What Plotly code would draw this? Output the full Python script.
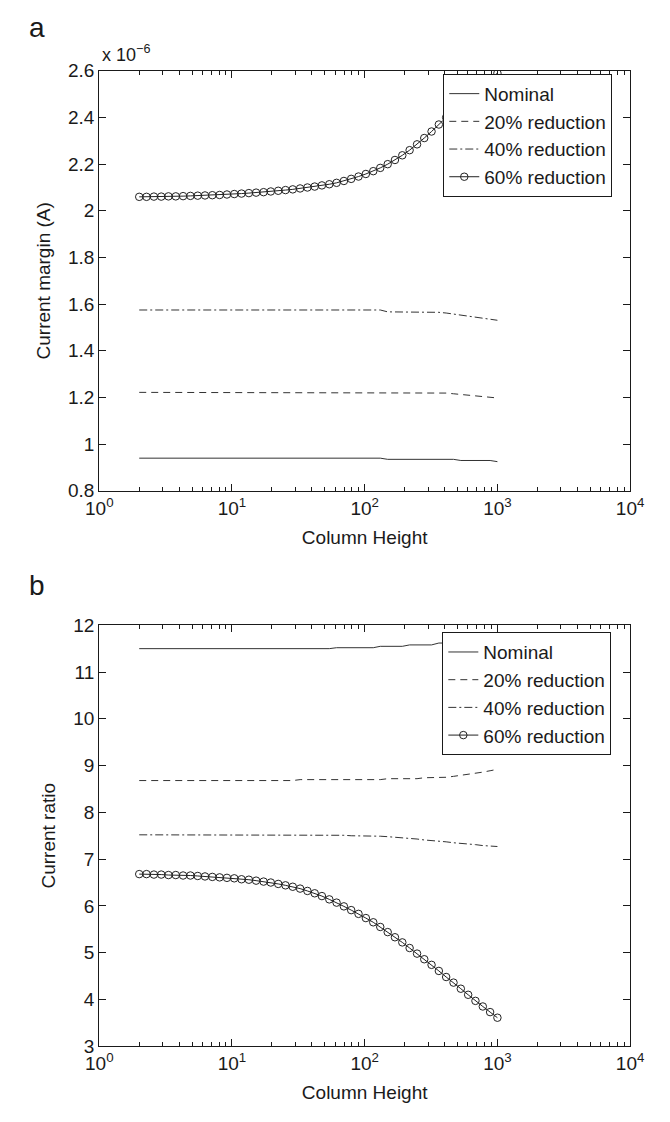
import plotly.graph_objects as go

# ---------------- data ----------------
column_height = [2.00, 2.27, 2.58, 2.93, 3.32, 3.77, 4.28, 4.86, 5.52, 6.26,
                 7.11, 8.07, 9.16, 10.4, 11.8, 13.4, 15.2, 17.3, 19.6, 22.3,
                 25.3, 28.7, 32.6, 37.0, 42.0, 47.6, 54.1, 61.4, 69.7, 79.1,
                 89.8, 102, 116, 131, 149, 169, 192, 218, 248, 281,
                 319, 362, 411, 467, 530, 602, 683, 776, 881, 1000]

series_names = ["Nominal", "20% reduction", "40% reduction", "60% reduction"]

# Current margin, in units of 1e-6 A
margin_nominal = [0.940] * 34 + [0.935] * 10 + [0.930] * 5 + [0.925]
margin_20 = [1.222] * 38 + [1.219] * 5 + [1.216, 1.213, 1.210, 1.207, 1.204, 1.201, 1.198]
margin_40 = [1.575] * 34 + [1.567] * 7 + [1.565, 1.562, 1.558, 1.554, 1.550,
                                          1.546, 1.541, 1.536, 1.531]
margin_60 = [2.060, 2.060, 2.061, 2.061, 2.062, 2.062, 2.063, 2.064, 2.065, 2.066,
             2.067, 2.068, 2.070, 2.072, 2.074, 2.076, 2.078, 2.080, 2.083, 2.086,
             2.089, 2.092, 2.096, 2.100, 2.104, 2.109, 2.114, 2.120, 2.128, 2.137,
             2.147, 2.158, 2.170, 2.184, 2.200, 2.218, 2.238, 2.260, 2.285, 2.312,
             2.340, 2.370, 2.400, 2.430, 2.460, 2.490, 2.515, 2.540, 2.565, 2.590]

# Current ratio
ratio_nominal = [11.50] * 27 + [11.52] * 6 + [11.55] * 4 + [11.58] * 4 + [11.62] * 4 + \
                [11.64, 11.66, 11.68, 11.70, 11.72]
ratio_20 = [8.68] * 22 + [8.70] * 12 + [8.72] * 5 + [8.74] * 3 + \
           [8.75, 8.77, 8.79, 8.81, 8.83, 8.86, 8.89, 8.92]
ratio_40 = [7.52] * 28 + [7.51, 7.50, 7.50, 7.50, 7.50, 7.49, 7.48, 7.47, 7.46, 7.44,
                          7.43, 7.41, 7.40, 7.38, 7.37, 7.35, 7.34, 7.32, 7.31, 7.29,
                          7.28, 7.27]
ratio_60 = [6.68, 6.68, 6.67, 6.67, 6.66, 6.66, 6.65, 6.65, 6.64, 6.63,
            6.62, 6.61, 6.60, 6.59, 6.57, 6.56, 6.54, 6.52, 6.50, 6.47,
            6.44, 6.41, 6.37, 6.32, 6.27, 6.21, 6.14, 6.07, 5.99, 5.91,
            5.83, 5.74, 5.65, 5.55, 5.44, 5.33, 5.22, 5.10, 4.98, 4.86,
            4.74, 4.61, 4.48, 4.36, 4.23, 4.10, 3.97, 3.85, 3.73, 3.61]

x_tick_vals = [1, 10, 100, 1000, 10000]
x_tick_text = ["10<sup>0</sup>", "10<sup>1</sup>", "10<sup>2</sup>", "10<sup>3</sup>", "10<sup>4</sup>"]

# ---------------- figure ----------------
W, H = 670, 1122
FONT = "Liberation Sans, Arial, Helvetica, sans-serif"
INK = "#1a1a1a"
FS = 19

styles = [
    dict(mode="lines", line=dict(color="#333333", width=1)),
    dict(mode="lines", line=dict(color="#333333", width=1, dash="7px,5px")),
    dict(mode="lines", line=dict(color="#333333", width=1, dash="8px,3px,2px,3px")),
    dict(mode="lines+markers", line=dict(color="#222222", width=1),
         marker=dict(symbol="circle-open", size=7.5, color="#222222", line=dict(width=1))),
]

fig = go.Figure()
for name, ys, st in zip(series_names, [margin_nominal, margin_20, margin_40, margin_60], styles):
    fig.add_trace(go.Scatter(x=column_height, y=ys, name=name, xaxis="x", yaxis="y",
                             legend="legend", **st))
for name, ys, st in zip(series_names, [ratio_nominal, ratio_20, ratio_40, ratio_60], styles):
    fig.add_trace(go.Scatter(x=column_height, y=ys, name=name, xaxis="x2", yaxis="y2",
                             legend="legend2", **st))

x0, x1 = 89 / W, 643 / W
dom_a = [1 - 490 / H, 1 - 62 / H]
dom_b = [1 - 1056 / H, 1 - 627 / H]

minor_vals = [m * 10 ** e for e in range(0, 4) for m in range(2, 10)]

def xaxis(anchor, dom_y):
    return dict(type="log", range=[0, 4], domain=[x0, x1], anchor=anchor,
                tickmode="array", tickvals=x_tick_vals, ticktext=x_tick_text,
                ticks="inside", ticklen=7, tickcolor=INK, tickwidth=1,
                minor=dict(tickmode="array", tickvals=minor_vals, ticks="inside",
                           ticklen=4, tickcolor=INK, tickwidth=1, showgrid=False),
                showline=True, linecolor=INK, linewidth=1.3, mirror="allticks",
                showgrid=False, zeroline=False,
                tickfont=dict(size=FS, color=INK, family=FONT),
                title=dict(text="Column Height", font=dict(size=FS, color=INK, family=FONT),
                           standoff=12))

def yaxis(anchor, dom, rng, dtick, title):
    return dict(range=rng, domain=dom, anchor=anchor, dtick=dtick, tick0=rng[0],
                ticks="inside", ticklen=7, tickcolor=INK, tickwidth=1,
                showline=True, linecolor=INK, linewidth=1.3, mirror="allticks",
                showgrid=False, zeroline=False,
                tickfont=dict(size=FS, color=INK, family=FONT),
                title=dict(text=title, font=dict(size=FS, color=INK, family=FONT),
                           standoff=12))

legend_common = dict(xanchor="left", yanchor="top", bgcolor="white",
                     bordercolor=INK, borderwidth=1,
                     font=dict(size=FS, color=INK, family=FONT),
                     itemwidth=30, tracegroupgap=0)

fig.update_layout(
    width=W, height=H,
    margin=dict(l=0, r=0, t=0, b=0),
    paper_bgcolor="white", plot_bgcolor="white",
    font=dict(family=FONT, color=INK, size=FS),
    showlegend=True,
    xaxis=xaxis("y", dom_a),
    yaxis=yaxis("x", dom_a, [0.8, 2.6], 0.2, "Current margin (A)"),
    xaxis2=xaxis("y2", dom_b),
    yaxis2=yaxis("x2", dom_b, [3, 12], 1, "Current ratio"),
    legend=dict(x=448 / W, y=1 - 65 / H, **legend_common),
    legend2=dict(x=447 / W, y=1 - 634 / H, **legend_common),
    annotations=[
        dict(text="a", x=14 / W, y=1 - 18 / H, xref="paper", yref="paper",
             xanchor="left", yanchor="middle", showarrow=False,
             font=dict(size=28, color=INK, family=FONT)),
        dict(text="b", x=14 / W, y=1 - 586 / H, xref="paper", yref="paper",
             xanchor="left", yanchor="middle", showarrow=False,
             font=dict(size=28, color=INK, family=FONT)),
        dict(text="x 10<sup>\u22126</sup>", x=90 / W, y=1 - 44 / H, xref="paper", yref="paper",
             xanchor="left", yanchor="middle", showarrow=False,
             font=dict(size=FS - 1, color=INK, family=FONT)),
    ],
)

fig.write_html("out.html")
